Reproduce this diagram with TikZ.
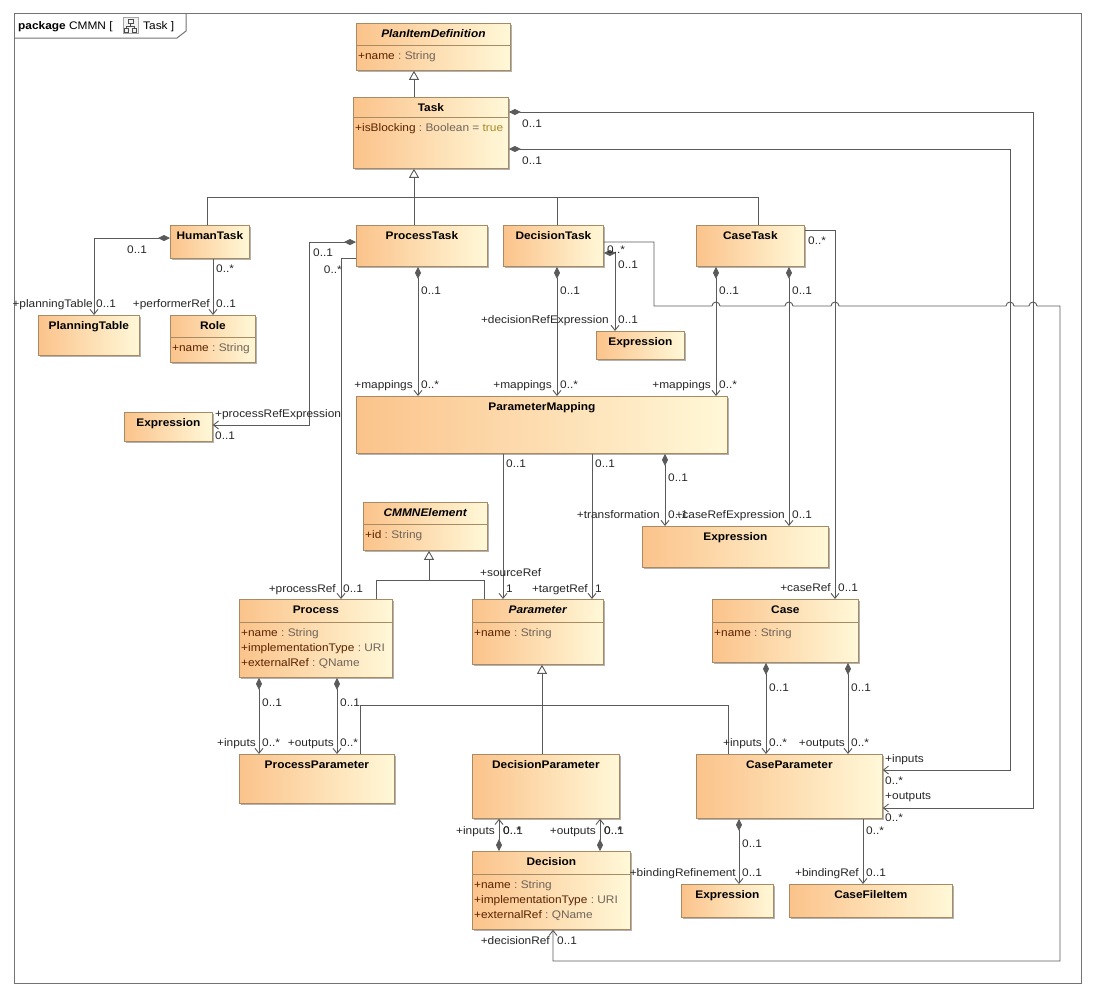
\documentclass[tikz,border=0pt]{standalone}
\usepackage{fontspec}
\setmainfont[FakeStretch=1.08]{Liberation Sans}
\usetikzlibrary{arrows.meta,shadows,calc}
\definecolor{boxL}{HTML}{FBC38B}
\definecolor{boxR}{HTML}{FFF8D8}
\definecolor{boxB}{HTML}{A88B63}
\definecolor{lnC}{HTML}{5A5A5A}
\definecolor{atN}{HTML}{5A2200}
\definecolor{atT}{HTML}{6F645A}
\definecolor{atV}{HTML}{A8892A}
\newcommand\uan[1]{\textcolor{atN}{#1}}
\newcommand\uat[1]{\textcolor{atT}{#1}}
\newcommand\umlcls[6]{\node[cls, minimum width=#4pt, minimum height=#5pt] (#1) at (#2,#3) {};
  \node[ttl] (#1-t) at ($(#1.north)+(0,14)$) {#6};}
\newcommand\umlsep[2]{\draw[sepl] ($(#1.north west)+(0,#2)$) -- ($(#1.north east)+(0,#2)$);}
\newcommand\umlatt[4]{\node[att] (#1-#2) at ($(#1.north west)+(2,#3)$) {#4};}
\newcommand\lbw[3]{\node[lbl,anchor=base west] (#1) at (#2) {#3};}
\newcommand\lbe[3]{\node[lbl,anchor=base east] (#1) at (#2) {#3};}
\begin{document}
\begin{tikzpicture}[x=1pt,y=-1pt, font=\fontsize{11}{15}\selectfont,
 cls/.style={draw=boxB, line width=0.8pt, left color=boxL, right color=boxR, anchor=north west, inner sep=0pt,
   drop shadow={shadow xshift=1.5pt, shadow yshift=-1.5pt, opacity=0.3, fill=black}},
 ttl/.style={font=\fontsize{11}{15}\selectfont\bfseries, inner sep=0pt, anchor=base},
 att/.style={anchor=base west, inner sep=0pt},
 sepl/.style={draw=boxB, line width=0.7pt},
 lbl/.style={inner sep=0pt, text=black!85},
 ln/.style={draw=lnC, line width=0.9pt},
 comp/.style={ln, {Diamond[length=12pt,width=6pt,fill=lnC]}-{Straight Barb[length=5pt,width=8pt]}},
 nav/.style={ln, -{Straight Barb[length=5pt,width=8pt]}},
 gen/.style={ln, -{Triangle[length=9pt,width=10pt,fill=white]}},
 framel/.style={draw=black!55, line width=1pt}]
\useasboundingbox (0,0) rectangle (1093,994);
% frame
\draw[framel] (14,13) rectangle (1081,983);
\draw[framel] (14,38) -- (177,38) -- (186,31) -- (186,13);
\node[anchor=base west, inner sep=0pt] (hdr) at (18,29) {\textbf{package}~CMMN~[};
\node[draw=gray!70, fill=gray!10, minimum width=15pt, minimum height=16pt, inner sep=0pt] (icon) at (131,25) {};
\draw[gray!60!black, line width=0.5pt] (128,19) rectangle (133,23) (124,28) rectangle (128,32) (132,28) rectangle (136,32)
  (130.5,23) -- (130.5,26) (126,28) -- (126,26) -- (134,26) -- (134,28);
\node[anchor=base west, inner sep=0pt] (hdr2) at (143,29) {Task~]};

% classes
\umlcls{pid}{356}{23}{154}{47}{\textit{PlanItemDefinition}}
\umlsep{pid}{22}\umlatt{pid}{a}{36}{\uan{+name}\uat{~:~String}}
\umlcls{task}{353}{97}{155}{71}{Task}
\umlsep{task}{20}\umlatt{task}{a}{34}{\uan{+isBlocking}\uat{~:~Boolean~=~}\textcolor{atV}{true}}
\umlcls{humantask}{170}{225}{79}{33}{HumanTask}
\umlcls{processtask}{356}{225}{131}{41}{ProcessTask}
\umlcls{decisiontask}{503}{225}{100}{41}{DecisionTask}
\umlcls{casetask}{696}{225}{108}{41}{CaseTask}
\umlcls{planningtable}{38}{315}{101}{40}{PlanningTable}
\umlcls{role}{170}{315}{85}{47}{Role}
\umlsep{role}{22}\umlatt{role}{a}{36}{\uan{+name}\uat{~:~String}}
\umlcls{exprA}{124}{412}{88}{29}{Expression}
\umlcls{exprB}{596}{331}{88}{28}{Expression}
\umlcls{pm}{356}{396}{371}{57}{ParameterMapping}
\umlcls{cmmn}{363}{502}{124}{48}{\textit{CMMNElement}}
\umlsep{cmmn}{22}\umlatt{cmmn}{a}{36}{\uan{+id}\uat{~:~String}}
\umlcls{exprC}{642}{526}{186}{41}{Expression}
\umlcls{process}{239}{599}{153}{78}{Process}
\umlsep{process}{23}
\umlatt{process}{a}{37}{\uan{+name}\uat{~:~String}}
\umlatt{process}{b}{52}{\uan{+implementationType}\uat{~:~URI}}
\umlatt{process}{c}{67}{\uan{+externalRef}\uat{~:~QName}}
\umlcls{parameter}{472}{599}{131}{65}{\textit{Parameter}}
\umlsep{parameter}{23}\umlatt{parameter}{a}{37}{\uan{+name}\uat{~:~String}}
\umlcls{case}{712}{599}{146}{63}{Case}
\umlsep{case}{23}\umlatt{case}{a}{37}{\uan{+name}\uat{~:~String}}
\umlcls{pp}{239}{754}{155}{49}{ProcessParameter}
\umlcls{dp}{472}{754}{147}{64}{DecisionParameter}
\umlcls{cp}{696}{754}{186}{64}{CaseParameter}
\umlcls{decision}{472}{851}{158}{78}{Decision}
\umlsep{decision}{23}
\umlatt{decision}{a}{37}{\uan{+name}\uat{~:~String}}
\umlatt{decision}{b}{52}{\uan{+implementationType}\uat{~:~URI}}
\umlatt{decision}{c}{67}{\uan{+externalRef}\uat{~:~QName}}
\umlcls{exprD}{681}{884}{92}{33}{Expression}
\umlcls{cfi}{789}{884}{163}{33}{CaseFileItem}

% helper coordinates
\coordinate (busL) at (207,197);
\coordinate (busR) at (758,197);
\coordinate (busD) at (557,197);
\coordinate (cmL) at (376,580);
\coordinate (cmR) at (484,580);
\coordinate (cmM) at (429,580);
\coordinate (ppL) at (360,705);
\coordinate (ppR) at (728,705);

% generalizations
\draw[gen] (task.north -| 414,0) -- (pid.south -| 414,0);
\draw[gen] (processtask.north -| 414,0) -- (task.south -| 414,0);
\draw[ln] (humantask.north -| 207,0) -- (busL) -- (busR) -- (casetask.north -| 758,0);
\draw[ln] (decisiontask.north -| 557,0) -- (busD);
\draw[gen] (cmM) -- (cmmn.south -| 429,0);
\draw[ln] (process.north -| 376,0) -- (cmL) -- (cmR) -- (parameter.north -| 484,0);
\draw[gen] (dp.north -| 542,0) -- (parameter.south -| 542,0);
\draw[ln] (pp.north -| 360,0) -- (ppL) -- (ppR) -- (cp.north -| 728,0);

% associations
\draw[comp] (humantask.west |- 0,238) -| (planningtable.north -| 94,0);
\draw[nav] (humantask.south -| 213,0) -- (role.north -| 213,0);
\draw[comp] (processtask.west |- 0,242) -| (309,425) -- (exprA.east |- 0,425);
\draw[nav] (processtask.west |- 0,258) -| (process.north -| 341,0);
\draw[comp] (processtask.south -| 418,0) -- (pm.north -| 418,0);
\draw[comp] (decisiontask.south -| 557,0) -- (pm.north -| 557,0);
\draw[comp] (decisiontask.east |- 0,253) -| (exprB.north -| 615,0);
\draw[nav] (decisiontask.east |- 0,242) -- (654,242) -- (654,306) -- (712,306)
  arc[start angle=180,end angle=0,radius=4pt] -- (785,306)
  arc[start angle=180,end angle=0,radius=4pt] -- (831,306)
  arc[start angle=180,end angle=0,radius=4pt] -- (1006,306)
  arc[start angle=180,end angle=0,radius=4pt] -- (1029,306)
  arc[start angle=180,end angle=0,radius=4pt] -- (1060,306) -- (1060,961) -- (553,961)
  -- (decision.south -| 553,0);
\draw[comp] (casetask.south -| 716,0) -- (pm.north -| 716,0);
\draw[comp] (casetask.south -| 789,0) -- (exprC.north -| 789,0);
\draw[nav] (casetask.east |- 0,230) -| (case.north -| 835,0);
\draw[comp] (task.east |- 0,112) -| (1033,808) -- (cp.east |- 0,808);
\draw[comp] (task.east |- 0,149) -| (1010,770) -- (cp.east |- 0,770);
\draw[nav] (pm.south -| 503,0) -- (parameter.north -| 503,0);
\draw[nav] (pm.south -| 592,0) -- (parameter.north -| 592,0);
\draw[comp] (pm.south -| 665,0) -- (exprC.north -| 665,0);
\draw[comp] (process.south -| 259,0) -- (pp.north -| 259,0);
\draw[comp] (process.south -| 337,0) -- (pp.north -| 337,0);
\draw[comp] (case.south -| 766,0) -- (cp.north -| 766,0);
\draw[comp] (case.south -| 848,0) -- (cp.north -| 848,0);
\draw[comp] (decision.north -| 499,0) -- (dp.south -| 499,0);
\draw[comp] (decision.north -| 600,0) -- (dp.south -| 600,0);
\draw[comp] (cp.south -| 739,0) -- (exprD.north -| 739,0);
\draw[nav] (cp.south -| 863,0) -- (cfi.north -| 863,0);

% labels
\lbw{L1}{127,253}{0..1}
\lbe{L2}{93,307}{+planningTable}
\lbw{L3}{96,307}{0..1}
\lbw{L4}{216,272}{0..*}
\lbe{L5}{210,307}{+performerRef}
\lbw{L6}{216,307}{0..1}
\lbw{L7}{313,256}{0..1}
\lbw{L8}{215,417}{+processRefExpression}
\lbw{L9}{215,439}{0..1}
\lbe{L10}{342,273}{0..*}
\lbe{L11}{336,592}{+processRef}
\lbw{L12}{343,592}{0..1}
\lbw{L13}{421,294}{0..1}
\lbe{L14}{413,388}{+mappings}
\lbw{L15}{421,388}{0..*}
\lbw{L16}{560,294}{0..1}
\lbe{L17}{552,388}{+mappings}
\lbw{L18}{560,388}{0..*}
\lbw{L19}{618,268}{0..1}
\lbe{L20}{609,323}{+decisionRefExpression}
\lbw{L21}{618,323}{0..1}
\lbw{L22}{607,253}{0..*}
\lbe{L23}{550,944}{+decisionRef}
\lbw{L24}{557,944}{0..1}
\lbw{L25}{719,294}{0..1}
\lbe{L26}{711,388}{+mappings}
\lbw{L27}{719,388}{0..*}
\lbw{L28}{792,294}{0..1}
\lbe{L29}{785,518}{+caseRefExpression}
\lbw{L30}{792,518}{0..1}
\lbw{L31}{808,244}{0..*}
\lbe{L32}{831,591}{+caseRef}
\lbw{L33}{838,591}{0..1}
\lbw{L34}{522,127}{0..1}
\lbw{L35}{522,164}{0..1}
\lbw{L36}{885,762}{+inputs}
\lbw{L37}{885,784}{0..*}
\lbw{L38}{885,799}{+outputs}
\lbw{L39}{885,821}{0..*}
\lbw{L40}{506,467}{0..1}
\lbw{L41}{480,576}{+sourceRef}
\lbw{L42}{506,592}{1}
\lbw{L43}{595,467}{0..1}
\lbe{L44}{588,592}{+targetRef}
\lbw{L45}{595,592}{1}
\lbw{L46}{668,481}{0..1}
\lbe{L47}{660,518}{+transformation}
\lbw{L48}{668,518}{0..1}
\lbw{L49}{262,706}{0..1}
\lbe{L50}{256,746}{+inputs}
\lbw{L51}{262,746}{0..*}
\lbw{L52}{340,706}{0..1}
\lbe{L53}{334,746}{+outputs}
\lbw{L54}{340,746}{0..*}
\lbw{L55}{769,691}{0..1}
\lbe{L56}{762,746}{+inputs}
\lbw{L57}{769,746}{0..*}
\lbw{L58}{851,691}{0..1}
\lbe{L59}{845,746}{+outputs}
\lbw{L60}{851,746}{0..*}
\lbe{L61}{495,834}{+inputs}
\lbw{L62}{503,834}{0..*}
\lbw{L63}{503,834}{0..1}
\lbe{L64}{596,834}{+outputs}
\lbw{L65}{604,834}{0..*}
\lbw{L66}{604,834}{0..1}
\lbw{L67}{742,847}{0..1}
\lbe{L68}{736,876}{+bindingRefinement}
\lbw{L69}{742,876}{0..1}
\lbw{L70}{866,834}{0..*}
\lbe{L71}{859,876}{+bindingRef}
\lbw{L72}{866,876}{0..1}
\end{tikzpicture}
\end{document}
